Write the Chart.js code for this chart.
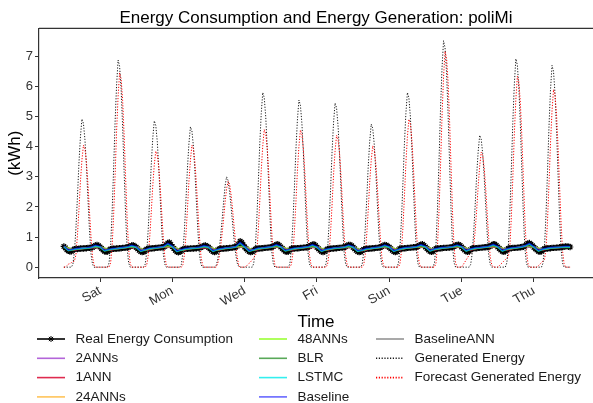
<!DOCTYPE html>
<html>
<head>
<meta charset="utf-8">
<script src="https://cdn.jsdelivr.net/npm/chart.js@4.4.1/dist/chart.umd.min.js"></script>
<style>
  html, body { margin: 0; padding: 0; background: #fff; }
</style>
</head>
<body>
<canvas id="energyChart" width="593" height="403"></canvas>
<script>
// time axis: hours from the first midnight (a Friday); labels sit at midnight of the named day
const tickHours = [24, 72, 120, 168, 216, 264, 312];
const tickLabels = ['Sat', 'Mon', 'Wed', 'Fri', 'Sun', 'Tue', 'Thu'];
const yTicks = [0, 1, 2, 3, 4, 5, 6, 7];

// real consumption, hourly, one row per day (Fri .. Thu) + closing value
const realConsumption = [
  [0.69,0.64,0.58,0.54,0.52,0.53,0.57,0.6,0.61,0.6,0.61,0.62,0.62,0.62,0.63,0.63,0.64,0.64,0.65,0.66,0.69,0.72,0.74,0.71],
  [0.67,0.62,0.57,0.53,0.51,0.52,0.57,0.6,0.61,0.61,0.61,0.62,0.62,0.63,0.63,0.64,0.64,0.65,0.66,0.67,0.69,0.72,0.73,0.7],
  [0.66,0.61,0.56,0.52,0.5,0.51,0.56,0.6,0.61,0.62,0.62,0.63,0.63,0.64,0.64,0.65,0.65,0.66,0.67,0.69,0.74,0.8,0.82,0.75],
  [0.68,0.62,0.56,0.51,0.49,0.51,0.56,0.6,0.6,0.61,0.61,0.61,0.62,0.62,0.62,0.63,0.63,0.64,0.65,0.66,0.68,0.71,0.72,0.7],
  [0.66,0.61,0.56,0.52,0.5,0.52,0.57,0.6,0.61,0.61,0.62,0.62,0.63,0.63,0.64,0.64,0.65,0.66,0.67,0.7,0.76,0.86,0.82,0.74],
  [0.67,0.61,0.56,0.52,0.5,0.51,0.56,0.6,0.61,0.62,0.62,0.63,0.63,0.64,0.64,0.65,0.65,0.66,0.67,0.69,0.72,0.75,0.76,0.72],
  [0.67,0.62,0.57,0.53,0.51,0.52,0.57,0.61,0.62,0.62,0.63,0.63,0.63,0.64,0.64,0.65,0.65,0.66,0.67,0.69,0.72,0.75,0.76,0.72],
  [0.66,0.61,0.56,0.52,0.5,0.52,0.57,0.6,0.61,0.61,0.62,0.62,0.63,0.63,0.64,0.64,0.65,0.65,0.66,0.68,0.71,0.74,0.74,0.71],
  [0.66,0.61,0.56,0.52,0.5,0.51,0.55,0.59,0.6,0.61,0.61,0.62,0.62,0.63,0.63,0.64,0.64,0.65,0.66,0.68,0.71,0.74,0.73,0.7],
  [0.66,0.61,0.56,0.52,0.5,0.52,0.57,0.61,0.62,0.62,0.63,0.63,0.64,0.64,0.65,0.65,0.66,0.66,0.67,0.69,0.72,0.75,0.76,0.72],
  [0.67,0.62,0.57,0.53,0.51,0.53,0.58,0.61,0.62,0.62,0.63,0.63,0.64,0.64,0.64,0.65,0.65,0.66,0.67,0.69,0.72,0.74,0.75,0.72],
  [0.67,0.62,0.57,0.53,0.51,0.53,0.58,0.62,0.63,0.63,0.63,0.64,0.64,0.65,0.65,0.66,0.66,0.67,0.68,0.7,0.73,0.76,0.76,0.72],
  [0.67,0.62,0.57,0.53,0.51,0.53,0.58,0.62,0.63,0.63,0.64,0.64,0.64,0.65,0.65,0.66,0.67,0.68,0.7,0.74,0.79,0.8,0.76,0.71],
  [0.66,0.61,0.57,0.53,0.51,0.53,0.58,0.61,0.62,0.62,0.63,0.63,0.64,0.64,0.64,0.65,0.65,0.66,0.66,0.67,0.68,0.69,0.69,0.68],
  [0.67]
];

// model forecasts every 3 hours (h0, h3, ... h21 per day) + closing value
const baseline3h = [
  [0.71,0.57,0.6,0.63,0.64,0.65,0.67,0.73], [0.7,0.56,0.6,0.63,0.64,0.66,0.68,0.73],
  [0.69,0.55,0.59,0.64,0.65,0.67,0.69,0.79], [0.71,0.54,0.59,0.63,0.64,0.65,0.67,0.72],
  [0.69,0.55,0.6,0.63,0.65,0.66,0.69,0.82], [0.7,0.55,0.59,0.64,0.65,0.67,0.69,0.75],
  [0.7,0.56,0.6,0.64,0.65,0.67,0.69,0.75], [0.69,0.55,0.6,0.63,0.65,0.66,0.68,0.74],
  [0.69,0.55,0.58,0.63,0.64,0.66,0.68,0.74], [0.69,0.55,0.6,0.64,0.66,0.67,0.69,0.75],
  [0.7,0.56,0.61,0.64,0.66,0.67,0.69,0.74], [0.7,0.56,0.61,0.65,0.66,0.68,0.7,0.76],
  [0.7,0.56,0.61,0.65,0.66,0.68,0.72,0.79], [0.69,0.56,0.61,0.64,0.66,0.67,0.68,0.7],
  [0.69]
];
const lstmc3h = [
  [0.68,0.55,0.58,0.61,0.62,0.63,0.65,0.71], [0.67,0.54,0.58,0.61,0.62,0.64,0.66,0.71],
  [0.66,0.53,0.57,0.62,0.63,0.65,0.67,0.77], [0.68,0.52,0.57,0.61,0.62,0.63,0.65,0.7],
  [0.66,0.53,0.58,0.61,0.63,0.64,0.67,0.8], [0.67,0.53,0.57,0.62,0.63,0.65,0.67,0.73],
  [0.67,0.54,0.58,0.62,0.63,0.65,0.67,0.73], [0.66,0.53,0.58,0.61,0.63,0.64,0.66,0.72],
  [0.66,0.53,0.56,0.61,0.62,0.64,0.66,0.72], [0.66,0.53,0.58,0.62,0.64,0.65,0.67,0.73],
  [0.67,0.54,0.59,0.62,0.64,0.65,0.67,0.72], [0.67,0.54,0.59,0.63,0.64,0.66,0.68,0.74],
  [0.67,0.54,0.59,0.63,0.64,0.66,0.7,0.77], [0.66,0.54,0.59,0.62,0.64,0.65,0.66,0.68],
  [0.67]
];
const blr3h = [
  [0.66,0.54,0.57,0.6,0.61,0.62,0.64,0.69], [0.65,0.53,0.57,0.6,0.61,0.63,0.65,0.69],
  [0.64,0.52,0.56,0.61,0.62,0.64,0.66,0.74], [0.66,0.51,0.56,0.6,0.61,0.62,0.64,0.68],
  [0.64,0.52,0.57,0.6,0.62,0.63,0.66,0.77], [0.65,0.52,0.56,0.61,0.62,0.64,0.66,0.71],
  [0.65,0.53,0.57,0.61,0.62,0.64,0.66,0.71], [0.64,0.52,0.57,0.6,0.62,0.63,0.65,0.7],
  [0.64,0.52,0.55,0.6,0.61,0.63,0.65,0.7], [0.64,0.52,0.57,0.61,0.63,0.64,0.66,0.71],
  [0.65,0.53,0.58,0.61,0.63,0.64,0.66,0.7], [0.65,0.53,0.58,0.62,0.63,0.65,0.67,0.72],
  [0.65,0.53,0.58,0.62,0.63,0.65,0.69,0.75], [0.64,0.53,0.58,0.61,0.63,0.64,0.65,0.66],
  [0.65]
];

// remaining models every 6 hours (h0, h6, h12, h18 per day) + closing value
const ann2_6h = [
  [0.68,0.57,0.62,0.65],[0.67,0.57,0.62,0.66],[0.66,0.56,0.63,0.67],[0.68,0.56,0.62,0.65],
  [0.66,0.57,0.63,0.67],[0.67,0.56,0.63,0.67],[0.67,0.57,0.63,0.67],[0.66,0.57,0.63,0.66],
  [0.66,0.55,0.62,0.66],[0.66,0.57,0.64,0.67],[0.67,0.58,0.64,0.67],[0.67,0.58,0.64,0.68],
  [0.67,0.58,0.64,0.7],[0.66,0.58,0.64,0.66],[0.67]
];
const ann1_6h = [
  [0.67,0.56,0.61,0.64],[0.66,0.56,0.61,0.65],[0.65,0.55,0.62,0.66],[0.67,0.55,0.61,0.64],
  [0.65,0.56,0.62,0.66],[0.66,0.55,0.62,0.66],[0.66,0.56,0.62,0.66],[0.65,0.56,0.62,0.65],
  [0.65,0.54,0.61,0.65],[0.65,0.56,0.63,0.66],[0.66,0.57,0.63,0.66],[0.66,0.57,0.63,0.67],
  [0.66,0.57,0.63,0.69],[0.65,0.57,0.63,0.65],[0.66]
];
const ann24_6h = [
  [0.68,0.58,0.62,0.66],[0.67,0.57,0.63,0.66],[0.67,0.57,0.63,0.68],[0.68,0.56,0.62,0.65],
  [0.67,0.57,0.63,0.68],[0.67,0.57,0.63,0.67],[0.68,0.58,0.63,0.67],[0.67,0.57,0.63,0.67],
  [0.66,0.56,0.62,0.66],[0.67,0.58,0.64,0.67],[0.68,0.58,0.64,0.68],[0.68,0.58,0.65,0.68],
  [0.68,0.58,0.65,0.71],[0.67,0.58,0.64,0.66],[0.67]
];
const ann48_6h = [
  [0.69,0.58,0.63,0.66],[0.68,0.58,0.63,0.67],[0.67,0.57,0.64,0.68],[0.69,0.57,0.63,0.66],
  [0.67,0.58,0.64,0.68],[0.68,0.57,0.64,0.68],[0.68,0.58,0.64,0.68],[0.67,0.58,0.64,0.67],
  [0.67,0.56,0.63,0.67],[0.67,0.58,0.65,0.68],[0.68,0.59,0.65,0.68],[0.68,0.59,0.65,0.69],
  [0.68,0.59,0.65,0.71],[0.67,0.59,0.65,0.67],[0.68]
];
const baselineAnn6h = [
  [0.67,0.57,0.62,0.65],[0.66,0.57,0.62,0.66],[0.66,0.56,0.62,0.67],[0.67,0.56,0.62,0.65],
  [0.66,0.57,0.63,0.67],[0.66,0.56,0.63,0.66],[0.67,0.57,0.63,0.66],[0.66,0.57,0.62,0.66],
  [0.65,0.55,0.62,0.66],[0.66,0.57,0.63,0.67],[0.67,0.58,0.63,0.67],[0.67,0.58,0.64,0.68],
  [0.67,0.58,0.64,0.69],[0.66,0.58,0.63,0.66],[0.66]
];

// PV generation, hourly, one row per day + closing value
const generatedEnergy = [
  [0,0,0,0,0,0,0.1,0.49,1.28,2.31,3.44,4.33,4.92,4.77,4.23,3.35,2.26,1.23,0.44,0.1,0,0,0,0],
  [0,0,0,0,0,0,0.14,0.69,1.79,3.23,4.82,6.05,6.88,6.67,5.92,4.68,3.16,1.72,0.62,0.14,0,0,0,0],
  [0,0,0,0,0,0,0.1,0.49,1.26,2.28,3.4,4.28,4.86,4.71,4.18,3.3,2.24,1.22,0.44,0.1,0,0,0,0],
  [0,0,0,0,0,0,0.09,0.47,1.21,2.19,3.26,4.1,4.66,4.52,4.01,3.17,2.14,1.17,0.42,0.09,0,0,0,0],
  [0,0,0,0,0,0.04,0.22,0.55,1.0,1.55,2.15,2.7,3.0,2.88,2.5,2.0,1.45,0.9,0.45,0.14,0.03,0,0,0],
  [0,0,0,0,0,0,0.12,0.58,1.51,2.73,4.06,5.1,5.8,5.63,4.99,3.94,2.67,1.45,0.52,0.12,0,0,0,0],
  [0,0,0,0,0,0,0.11,0.56,1.44,2.61,3.89,4.88,5.55,5.38,4.77,3.77,2.55,1.39,0.5,0.11,0,0,0,0],
  [0,0,0,0,0,0,0.11,0.55,1.42,2.56,3.82,4.8,5.45,5.29,4.69,3.71,2.51,1.36,0.49,0.11,0,0,0,0],
  [0,0,0,0,0,0,0.1,0.48,1.24,2.23,3.33,4.18,4.75,4.61,4.09,3.23,2.19,1.19,0.43,0.1,0,0,0,0],
  [0,0,0,0,0,0,0.12,0.58,1.51,2.73,4.06,5.1,5.8,5.63,4.99,3.94,2.67,1.45,0.52,0.12,0,0,0,0],
  [0,0,0,0,0,0,0.15,0.75,1.96,3.53,5.26,6.62,7.52,7.29,6.47,5.11,3.46,1.88,0.68,0.15,0,0,0,0],
  [0,0,0,0,0,0,0.09,0.44,1.14,2.06,3.07,3.85,4.38,4.25,3.77,2.98,2.01,1.1,0.39,0.09,0,0,0,0],
  [0,0,0,0,0,0,0.14,0.69,1.8,3.25,4.84,6.09,6.92,6.71,5.95,4.71,3.18,1.73,0.62,0.14,0,0,0,0],
  [0,0,0,0,0,0,0.13,0.67,1.74,3.15,4.69,5.9,6.7,6.5,5.76,4.56,3.08,1.68,0.6,0.13,0,0,0,0],
  [0]
];
const forecastGenerated = [
  [0,0,0.05,0.1,0.12,0.15,0.18,0.2,0.41,1.05,1.9,2.84,3.56,4.05,3.93,3.48,2.75,1.86,1.01,0.36,0.08,0,0,0],
  [0,0,0,0,0,0,0,0.13,0.65,1.68,3.03,4.52,5.68,6.45,6.26,5.55,4.39,2.97,1.61,0.58,0.13,0,0,0],
  [0,0,0,0,0,0,0,0.08,0.39,1.0,1.81,2.7,3.39,3.85,3.73,3.31,2.62,1.77,0.96,0.35,0.08,0,0,0],
  [0,0,0,0,0,0,0,0.08,0.41,1.05,1.9,2.84,3.56,4.05,3.93,3.48,2.75,1.86,1.01,0.36,0.08,0,0,0],
  [0,0,0,0,0,0,0.1,0.3,0.65,1.1,1.6,2.15,2.6,2.85,2.75,2.4,1.9,1.35,0.8,0.35,0.08,0,0,0],
  [0,0.03,0.08,0.13,0.18,0.24,0.3,0.4,0.46,1.19,2.15,3.2,4.02,4.57,4.43,3.93,3.11,2.1,1.14,0.41,0.09,0,0,0],
  [0,0,0,0,0,0,0,0.09,0.46,1.18,2.14,3.19,4.0,4.55,4.41,3.91,3.09,2.09,1.14,0.41,0.09,0,0,0],
  [0,0,0,0,0,0,0,0.09,0.44,1.14,2.06,3.07,3.85,4.38,4.25,3.77,2.98,2.01,1.1,0.39,0.09,0,0,0],
  [0,0,0,0,0,0,0,0.08,0.4,1.05,1.89,2.82,3.55,4.03,3.91,3.47,2.74,1.85,1.01,0.36,0.08,0,0,0],
  [0,0,0,0,0,0,0,0.1,0.49,1.28,2.31,3.44,4.32,4.91,4.76,4.22,3.34,2.26,1.23,0.44,0.1,0,0,0],
  [0,0,0,0,0,0,0,0.14,0.72,1.86,3.37,5.02,6.31,7.17,6.95,6.17,4.88,3.3,1.79,0.65,0.14,0,0,0],
  [0,0.08,0.16,0.24,0.32,0.4,0.48,0.56,0.7,1.2,1.9,2.7,3.36,3.82,3.71,3.29,2.6,1.76,0.96,0.34,0.08,0,0,0],
  [0,0.05,0.1,0.15,0.2,0.25,0.3,0.35,0.66,1.65,2.98,4.44,5.58,6.34,6.15,5.45,4.31,2.92,1.59,0.57,0.13,0,0,0],
  [0,0,0,0.05,0.1,0.15,0.2,0.25,0.59,1.53,2.77,4.13,5.19,5.9,5.72,5.07,4.01,2.71,1.48,0.53,0.12,0,0,0],
  [0]
];

const FONT = '"Liberation Sans", Arial, sans-serif';

// rows -> {x: hour, y: value}
function toPoints(rows, stepHours) {
  return rows.flat().map((v, i) => ({ x: i * stepHours, y: v }));
}

function lineSet(label, rows, step, color, width, order, extra) {
  return Object.assign({
    label: label,
    data: toPoints(rows, step),
    borderColor: color,
    borderWidth: width,
    pointRadius: 0,
    tension: 0,
    order: order,
  }, extra || {});
}

// dataset order here is the legend order (filled column by column)
const datasets = [
  lineSet('Real Energy Consumption', realConsumption, 1, '#000000', 2.4, 10, {
    pointStyle: 'star', pointRadius: 3.2, pointBorderWidth: 1.2,
    pointBorderColor: '#000000', pointBackgroundColor: '#000000',
  }),
  lineSet('2ANNs', ann2_6h, 6, 'rgba(153,50,204,0.75)', 1.3, 9),
  lineSet('1ANN', ann1_6h, 6, 'rgba(220,20,60,0.9)', 1.3, 8),
  lineSet('24ANNs', ann24_6h, 6, 'rgba(255,165,0,0.65)', 1.3, 7),
  lineSet('48ANNs', ann48_6h, 6, 'rgba(127,255,0,0.8)', 1.3, 6),
  lineSet('BLR', blr3h, 3, 'rgba(34,139,34,0.75)', 1.3, 3),
  lineSet('LSTMC', lstmc3h, 3, 'rgba(0,235,235,0.8)', 1.3, 2),
  lineSet('Baseline', baseline3h, 3, 'rgba(0,0,255,0.6)', 1.4, 1),
  lineSet('BaselineANN', baselineAnn6h, 6, 'rgba(120,120,120,0.8)', 1.2, 5),
  lineSet('Generated Energy', generatedEnergy, 1, '#1a1a1a', 1, 21, { borderDash: [1.2, 1.6] }),
  lineSet('Forecast Generated Energy', forecastGenerated, 1, '#ff0000', 1, 20, { borderDash: [1.2, 1.6] }),
];

// legend laid out in three columns below the plot
const legendColumns = [[0, 1, 2, 3], [4, 5, 6, 7], [8, 9, 10]];
const legendColumnX = [37, 259, 376];

const columnLegend = {
  id: 'columnLegend',
  afterDraw(chart) {
    const ctx = chart.ctx;
    const sets = chart.data.datasets;
    ctx.save();
    ctx.font = '13.5px ' + FONT;
    ctx.textBaseline = 'middle';
    legendColumns.forEach((col, c) => {
      col.forEach((idx, r) => {
        const ds = sets[idx];
        const x = legendColumnX[c];
        const y = 339 + r * 19.3;
        ctx.save();
        ctx.strokeStyle = ds.borderColor;
        ctx.lineWidth = 1.6;
        ctx.setLineDash(ds.borderDash || []);
        ctx.beginPath();
        ctx.moveTo(x, y);
        ctx.lineTo(x + 28, y);
        ctx.stroke();
        if (ds.pointStyle === 'star') {
          ctx.setLineDash([]);
          ctx.strokeStyle = '#000';
          ctx.lineWidth = 1;
          Chart.helpers.drawPoint(ctx, { pointStyle: 'star', radius: 3, borderWidth: 1, rotation: 0 }, x + 14, y);
        }
        ctx.restore();
        ctx.fillStyle = '#1a1a1a';
        ctx.fillText(ds.label, x + 38.5, y);
      });
    });
    ctx.restore();
  }
};

// line along the top of the panel
const panelTop = {
  id: 'panelTop',
  afterDraw(chart) {
    const { ctx, chartArea } = chart;
    ctx.save();
    ctx.strokeStyle = '#333';
    ctx.lineWidth = 1.2;
    ctx.beginPath();
    ctx.moveTo(chartArea.left, chartArea.top);
    ctx.lineTo(chartArea.right, chartArea.top);
    ctx.stroke();
    ctx.restore();
  }
};

new Chart(document.getElementById('energyChart'), {
  type: 'line',
  data: { datasets: datasets },
  plugins: [panelTop, columnLegend],
  options: {
    responsive: false,
    animation: false,
    devicePixelRatio: 1,
    layout: { autoPadding: false, padding: { left: 0, right: 0, top: 0, bottom: 70 } },
    plugins: {
      legend: { display: false },
      tooltip: { enabled: false },
      title: {
        display: true,
        fullSize: false,
        text: 'Energy Consumption and Energy Generation: poliMi',
        color: '#000',
        font: { family: FONT, size: 17, weight: 'normal' },
        padding: { top: 8, bottom: 0 },
      },
    },
    scales: {
      x: {
        type: 'linear',
        min: -16.5,
        max: 351.2,
        afterFit(scale) {
          scale.height = 55;
          scale.paddingLeft = 0;
          scale.paddingRight = 0;
        },
        afterBuildTicks(scale) { scale.ticks = tickHours.map(v => ({ value: v })); },
        ticks: {
          autoSkip: false,
          minRotation: 30,
          maxRotation: 30,
          padding: 1,
          color: '#333',
          font: { family: FONT, size: 13 },
          callback: (v) => tickLabels[tickHours.indexOf(v)],
        },
        grid: { drawOnChartArea: false, drawTicks: true, tickLength: 4, color: '#333', lineWidth: 1 },
        border: { display: true, color: '#333', width: 1.2 },
        title: {
          display: true,
          text: 'Time',
          color: '#000',
          font: { family: FONT, size: 17 },
          padding: { top: 0, bottom: 0 },
        },
      },
      y: {
        type: 'linear',
        min: -0.36,
        max: 7.93,
        afterFit(scale) {
          scale.width = 39;
          scale.paddingTop = 0;
          scale.paddingBottom = 0;
        },
        afterBuildTicks(scale) { scale.ticks = yTicks.map(v => ({ value: v })); },
        ticks: {
          padding: 2,
          color: '#333',
          font: { family: FONT, size: 13 },
        },
        grid: { drawOnChartArea: false, drawTicks: true, tickLength: 4, color: '#333', lineWidth: 1 },
        border: { display: true, color: '#333', width: 1.2 },
        title: {
          display: true,
          text: '(kWh)',
          color: '#000',
          font: { family: FONT, size: 17 },
          padding: { top: 5, bottom: 0 },
        },
      },
    },
  },
});
</script>
</body>
</html>
